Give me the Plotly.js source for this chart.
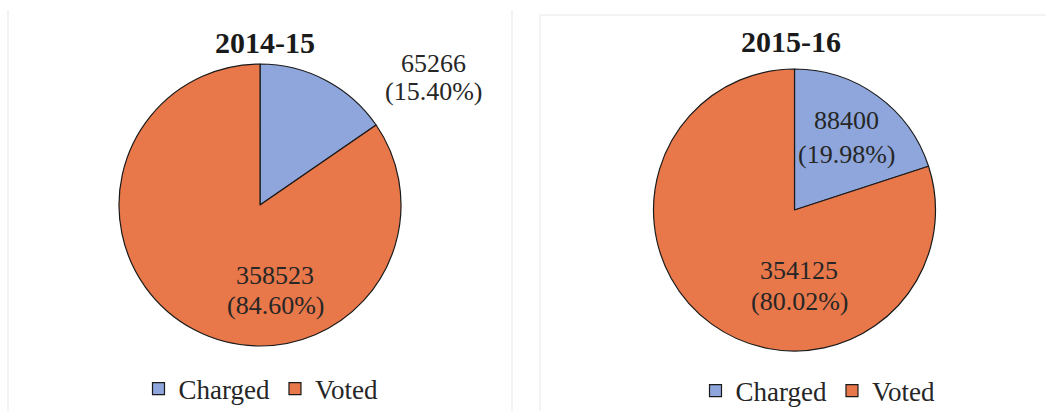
<!DOCTYPE html>
<html>
<head>
<meta charset="utf-8">
<script src="https://cdn.plot.ly/plotly-3.0.1.min.js"></script>
<style>
  html, body { margin: 0; padding: 0; background: #ffffff; }
  #chart { width: 1046px; height: 411px; }
</style>
</head>
<body>
<div id="chart"></div>
<script>
// ---- data ----
const categories = ["Charged", "Voted"];
const years = ["2014-15", "2015-16"];
const values2014 = [65266, 358523];
const values2015 = [88400, 354125];

// ---- helpers ----
const W = 1046, H = 411;
const px = x => x / W;
const py = y => 1 - y / H;
const colors = ["#8EA6DB", "#E8774A"];
const serif = "Liberation Serif, Times New Roman, serif";
const textColor = "#262626";

function pct(vals, i) {
  const total = vals.reduce((a, b) => a + b, 0);
  return (vals[i] / total * 100).toFixed(2) + "%";
}

function pieTrace(vals, name, labels, domain, legendId) {
  return {
    type: "pie",
    labels: labels,
    values: vals,
    name: name,
    sort: false,
    direction: "clockwise",
    rotation: 0,
    textinfo: "none",
    hoverinfo: "skip",
    marker: { colors: colors, line: { color: "#1a1a1a", width: 1.2 } },
    domain: domain,
    legend: legendId
  };
}

// second pie gets a zero-width suffix so its legend entries are not merged with the first
const labels2015 = categories.map(c => c + "\u200B");

const traces = [
  pieTrace(values2014, years[0], categories, { x: [px(119), px(401)], y: [py(346), py(64)] }, "legend"),
  pieTrace(values2015, years[1], labels2015, { x: [px(653.5), px(935.5)], y: [py(351), py(69)] }, "legend2")
];

// label placement (pixel centres of each text line)
const labelPos = [
  [ { x: 433, y1: 63, y2: 91 }, { x: 275, y1: 275, y2: 305 } ],
  [ { x: 846, y1: 121, y2: 154 }, { x: 799, y1: 270, y2: 301 } ]
];
const allVals = [values2014, values2015];

const annotations = [];
annotations.push({ text: "<b>" + years[0] + "</b>", x: px(265), y: py(43), xref: "paper", yref: "paper",
  xanchor: "center", yanchor: "middle", showarrow: false, font: { family: serif, size: 30, color: "#1a1a1a" } });
annotations.push({ text: "<b>" + years[1] + "</b>", x: px(791), y: py(42), xref: "paper", yref: "paper",
  xanchor: "center", yanchor: "middle", showarrow: false, font: { family: serif, size: 30, color: "#1a1a1a" } });

for (let t = 0; t < 2; t++) {
  for (let i = 0; i < categories.length; i++) {
    const p = labelPos[t][i];
    const vals = allVals[t];
    annotations.push({ text: String(vals[i]), x: px(p.x), y: py(p.y1), xref: "paper", yref: "paper",
      xanchor: "center", yanchor: "middle", showarrow: false, font: { family: serif, size: 26, color: textColor } });
    annotations.push({ text: "(" + pct(vals, i) + ")", x: px(p.x), y: py(p.y2), xref: "paper", yref: "paper",
      xanchor: "center", yanchor: "middle", showarrow: false, font: { family: serif, size: 26, color: textColor } });
  }
}

const borderColor = "#efefef";
const shapes = [
  { type: "line", xref: "paper", yref: "paper", x0: px(8), x1: px(8), y0: 0, y1: py(10), line: { color: borderColor, width: 1.5 } },
  { type: "line", xref: "paper", yref: "paper", x0: px(512), x1: px(512), y0: 0, y1: py(10), line: { color: borderColor, width: 1.5 } },
  { type: "line", xref: "paper", yref: "paper", x0: px(540), x1: px(540), y0: 0, y1: py(15), line: { color: borderColor, width: 1.5 } },
  { type: "line", xref: "paper", yref: "paper", x0: px(540), x1: 1, y0: py(15), y1: py(15), line: { color: borderColor, width: 1.5 } }
];

const legendCommon = {
  orientation: "h",
  xanchor: "center",
  yanchor: "middle",
  bgcolor: "rgba(0,0,0,0)",
  font: { family: serif, size: 27, color: textColor },
  itemclick: false,
  itemdoubleclick: false,
  traceorder: "normal"
};

const layout = {
  width: W,
  height: H,
  margin: { l: 0, r: 0, t: 0, b: 0, autoexpand: false },
  paper_bgcolor: "#ffffff",
  plot_bgcolor: "#ffffff",
  showlegend: true,
  legend: Object.assign({}, legendCommon, { x: px(261), y: py(389) }),
  legend2: Object.assign({}, legendCommon, { x: px(818), y: py(391) }),
  annotations: annotations,
  shapes: shapes
};

Plotly.newPlot("chart", traces, layout, { displayModeBar: false, staticPlot: true });
</script>
</body>
</html>
